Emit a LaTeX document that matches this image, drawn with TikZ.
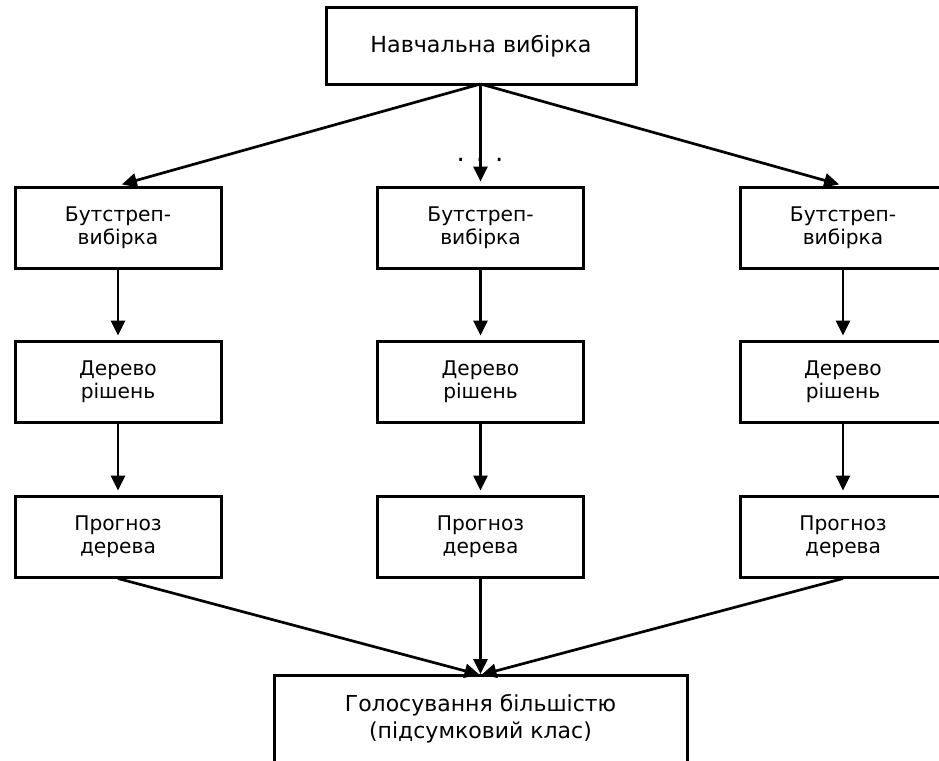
\documentclass[tikz,border=0pt]{standalone}
\usepackage{fontspec}
\setmainfont{DejaVu Sans}
\usetikzlibrary{arrows.meta}
\begin{document}
\begin{tikzpicture}[x=1pt,y=1pt,
  box/.style={draw=black,line width=3pt,fill=white,inner sep=0pt,align=center,
    font=\fontsize{20.2}{23}\selectfont,minimum width=206pt,minimum height=81pt},
  arr/.style={line width=2.7pt,-{Triangle[length=15pt,width=14pt]},shorten >=4pt}]
\useasboundingbox (0,0) rectangle (939,-760);
\node[box,minimum width=310pt,minimum height=76pt,font=\fontsize{22.2}{26}\selectfont] (top) at (481,-46) {Навчальна вибірка};
\node[box] (b1) at (118,-227.5) {Бутстреп-\\вибірка};
\node[box] (b2) at (480.5,-227.5) {Бутстреп-\\вибірка};
\node[box] (b3) at (843,-227.5) {Бутстреп-\\вибірка};
\node[box] (d1) at (118,-381.5) {Дерево\\рішень};
\node[box] (d2) at (480.5,-381.5) {Дерево\\рішень};
\node[box] (d3) at (843,-381.5) {Дерево\\рішень};
\node[box] (p1) at (118,-536.5) {Прогноз\\дерева};
\node[box] (p2) at (480.5,-536.5) {Прогноз\\дерева};
\node[box] (p3) at (843,-536.5) {Прогноз\\дерева};
\node[box,minimum width=413pt,minimum height=88pt,font=\fontsize{22}{27}\selectfont] (vote) at (480.5,-719) {Голосування більшістю\\(підсумковий клас)};
\node[font=\fontsize{26}{30}\selectfont] (dots) at (480,-160) {.\hspace{11pt}.\hspace{11pt}.};
\coordinate (tb) at (480.5,-84);
\coordinate (vt) at (480.5,-675);
\draw[arr] (tb) -- (b1.north);
\draw[arr] (tb) -- (b2.north);
\draw[arr] (tb) -- (b3.north);
\draw[arr] (b1) -- (d1);
\draw[arr] (b2) -- (d2);
\draw[arr] (b3) -- (d3);
\draw[arr] (d1) -- (p1);
\draw[arr] (d2) -- (p2);
\draw[arr] (d3) -- (p3);
\draw[arr,shorten >=1pt] (p1.south) -- (vt);
\draw[arr,shorten >=1pt] (p2.south) -- (vt);
\draw[arr,shorten >=1pt] (p3.south) -- (vt);
\end{tikzpicture}
\end{document}
